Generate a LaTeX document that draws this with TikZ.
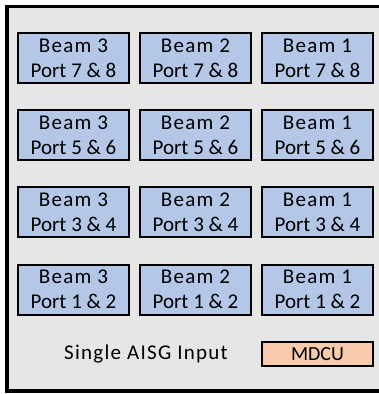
\documentclass[tikz,border=0pt]{standalone}
\usepackage{fontspec}
\setmainfont{Carlito}
\newfontfamily\spaced[LetterSpace=6]{Carlito}
\newfontfamily\widespaced[LetterSpace=6]{Carlito}
\definecolor{panelgray}{HTML}{E6E6E6}
\definecolor{beamblue}{HTML}{B4C7E7}
\definecolor{mdcuorange}{HTML}{F8CBAD}
\newcommand{\beamport}[2]{{\spaced Beam #1}\\Port #2}

\begin{document}
\begin{tikzpicture}[x=1pt, y=-1pt]
		\tikzstyle{every node}=[align=center, inner sep=0pt, font=\fontsize{21}{25}\selectfont]
		\tikzstyle{portbox}=[draw, line width=2pt, fill=beamblue, minimum width=111pt, minimum height=50pt]
		\useasboundingbox (0, 0) rectangle (379, 394);
		% panel
		\draw [line width=3.5pt, fill=panelgray] (6.75, 6.5) rectangle (420, 391);

		\node [portbox] (b3p78) at (73.5, 58) {\beamport{3}{7 \& 8}};
		\node [portbox] (b2p78) at (195.5, 58) {\beamport{2}{7 \& 8}};
		\node [portbox] (b1p78) at (317.5, 58) {\beamport{1}{7 \& 8}};

		\node [portbox] (b3p56) at (73.5, 135) {\beamport{3}{5 \& 6}};
		\node [portbox] (b2p56) at (195.5, 135) {\beamport{2}{5 \& 6}};
		\node [portbox] (b1p56) at (317.5, 135) {\beamport{1}{5 \& 6}};

		\node [portbox] (b3p34) at (73.5, 212) {\beamport{3}{3 \& 4}};
		\node [portbox] (b2p34) at (195.5, 212) {\beamport{2}{3 \& 4}};
		\node [portbox] (b1p34) at (317.5, 212) {\beamport{1}{3 \& 4}};

		\node [portbox] (b3p12) at (73.5, 289.5) {\beamport{3}{1 \& 2}};
		\node [portbox] (b2p12) at (195.5, 289.5) {\beamport{2}{1 \& 2}};
		\node [portbox] (b1p12) at (317.5, 289.5) {\beamport{1}{1 \& 2}};

		\node (aisg) at (146, 354) {\widespaced Single AISG Input};
		\node [draw, line width=2pt, fill=mdcuorange, minimum width=111pt, minimum height=24pt, font=\fontsize{20}{24}\selectfont] (mdcu) at (317.5, 354) {MDCU};
	\end{tikzpicture}
\end{document}
